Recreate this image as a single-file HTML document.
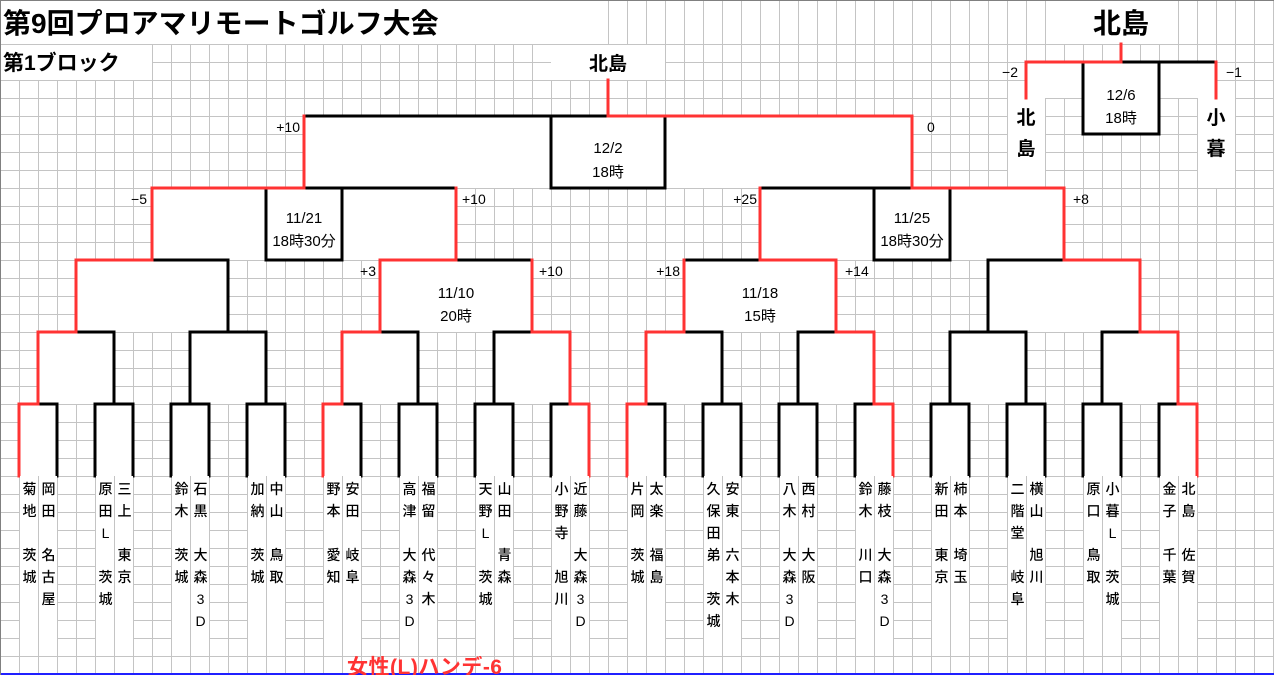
<!DOCTYPE html>
<html><head><meta charset="utf-8">
<style>
html,body{margin:0;padding:0;background:#fff;}
#c{position:relative;width:1274px;height:675px;overflow:hidden;background:#fff;
font-family:"Liberation Sans","Noto Sans CJK JP",sans-serif;}
#gv{position:absolute;left:0;top:0;width:1274px;height:675px;
background-image:linear-gradient(to right,#c4c4c4 1px,transparent 1px);background-size:19px 18px;}
#gh{position:absolute;left:0;top:44px;width:1274px;height:631px;
background-image:linear-gradient(to bottom,#c4c4c4 1px,transparent 1px);background-size:19px 18px;}
svg{position:absolute;left:0;top:0;}
.n{position:absolute;top:478px;width:19px;text-align:center;font-size:14px;line-height:22px;color:#000;font-weight:500;}
.w{position:absolute;top:476px;width:18px;height:180px;background:#fff}
</style></head><body>
<div id="c">
<div id="gv"></div><div id="gh"></div>
<svg width="1274" height="675" viewBox="0 0 1274 675">
<g fill="#fff">
<rect x="0" y="1" width="608" height="43"/>
<rect x="1064" y="1" width="114" height="43"/>
<rect x="0" y="45" width="152" height="35"/>
<rect x="551" y="45" width="114" height="35"/>
<rect x="304" y="116" width="608" height="72"/>
<rect x="152" y="188" width="304" height="72"/>
<rect x="760" y="188" width="304" height="72"/>
<rect x="76" y="260" width="152" height="72"/>
<rect x="380" y="260" width="152" height="72"/>
<rect x="684" y="260" width="152" height="72"/>
<rect x="988" y="260" width="152" height="72"/>
<rect x="38" y="332" width="76" height="72"/><rect x="190" y="332" width="76" height="72"/>
<rect x="342" y="332" width="76" height="72"/><rect x="494" y="332" width="76" height="72"/>
<rect x="646" y="332" width="76" height="72"/><rect x="798" y="332" width="76" height="72"/>
<rect x="950" y="332" width="76" height="72"/><rect x="1102" y="332" width="76" height="72"/>
<rect x="19" y="404" width="38" height="72"/><rect x="95" y="404" width="38" height="72"/>
<rect x="171" y="404" width="38" height="72"/><rect x="247" y="404" width="38" height="72"/>
<rect x="323" y="404" width="38" height="72"/><rect x="399" y="404" width="38" height="72"/>
<rect x="475" y="404" width="38" height="72"/><rect x="551" y="404" width="38" height="72"/>
<rect x="627" y="404" width="38" height="72"/><rect x="703" y="404" width="38" height="72"/>
<rect x="779" y="404" width="38" height="72"/><rect x="855" y="404" width="38" height="72"/>
<rect x="931" y="404" width="38" height="72"/><rect x="1007" y="404" width="38" height="72"/>
<rect x="1083" y="404" width="38" height="72"/><rect x="1159" y="404" width="38" height="72"/>
<rect x="1027" y="63" width="56" height="35"/>
<rect x="1159" y="63" width="57" height="35"/>
<rect x="1083" y="62" width="76" height="72"/>
<rect x="1008" y="98" width="37" height="90"/>
<rect x="1198" y="98" width="37" height="90"/>
</g>
<g fill="none" stroke-width="3" stroke-linecap="square">
<path stroke="#000" d="M38 404H57V476 M95 476V404H133V476 M171 476V404H209V476 M247 476V404H285V476 M342 404H361V476 M399 476V404H437V476 M475 476V404H513V476 M551 476V404H570 M646 404H665V476 M703 476V404H741V476 M779 476V404H817V476 M855 476V404H874 M931 476V404H969V476 M1007 476V404H1045V476 M1083 476V404H1121V476 M1159 476V404H1178
M76 332H114V404 M190 404V332H266V404 M380 332H418V404 M494 404V332H532 M684 332H722V404 M798 404V332H836 M950 404V332H1026V404 M1102 404V332H1140
M152 260H228V332 M456 260H532 M684 260H760 M988 332V260H1064
M304 188H456 M760 188H912 M304 116H608
M551 116V188H665V116 M266 188V260H342V188 M874 188V260H950V188
M1121 62H1216 M1083 62V134H1159V62"/>
<path stroke="#ff3333" d="M19 476V404H38 M323 476V404H342 M570 404H589V476 M627 476V404H646 M874 404H893V476 M1178 404H1197V476
M38 404V332H76 M342 404V332H380 M532 332H570V404 M646 404V332H684 M836 332H874V404 M1140 332H1178V404
M76 332V260H152 M380 332V260H456 M532 260V332 M684 332V260 M760 260H836V332 M1064 260H1140V332
M152 260V188H304 M456 188V260 M760 260V188 M912 188H1064V260
M304 188V116 M608 80V116H912V188
M1121 44V62H1026V98 M1216 62V98"/>
</g>
<line x1="0" y1="674" x2="1274" y2="674" stroke="#2020ff" stroke-width="2"/>
<line x1="0" y1="0.5" x2="1274" y2="0.5" stroke="#808080" stroke-width="1"/>
<line x1="0.5" y1="0" x2="0.5" y2="675" stroke="#808080" stroke-width="1"/>
<g font-family="Liberation Sans, Noto Sans CJK JP, sans-serif" fill="#000">
<text x="3" y="33" font-size="28" font-weight="bold">第9回プロアマリモートゴルフ大会</text>
<text x="3" y="70" font-size="21" font-weight="bold">第1ブロック</text>
<text x="608" y="70" font-size="19" font-weight="bold" text-anchor="middle">北島</text>
<text x="1121" y="33" font-size="28" font-weight="bold" text-anchor="middle">北島</text>
<text x="1026" y="124" font-size="19" font-weight="bold" text-anchor="middle">北</text>
<text x="1026" y="155" font-size="19" font-weight="bold" text-anchor="middle">島</text>
<text x="1216" y="124" font-size="19" font-weight="bold" text-anchor="middle">小</text>
<text x="1216" y="155" font-size="19" font-weight="bold" text-anchor="middle">暮</text>
<g font-size="15" text-anchor="middle">
<text x="1121" y="100">12/6</text><text x="1121" y="123">18時</text>
<text x="608" y="153">12/2</text><text x="608" y="177">18時</text>
<text x="304" y="223">11/21</text><text x="304" y="246">18時30分</text>
<text x="912" y="223">11/25</text><text x="912" y="246">18時30分</text>
<text x="456" y="298">11/10</text><text x="456" y="321">20時</text>
<text x="760" y="298">11/18</text><text x="760" y="321">15時</text>
</g>
<g font-size="14">
<text x="1018" y="77" text-anchor="end">−2</text>
<text x="1226" y="77">−1</text>
<text x="300" y="132" text-anchor="end">+10</text>
<text x="927" y="132">0</text>
<text x="147" y="204" text-anchor="end">−5</text>
<text x="462" y="204">+10</text>
<text x="757" y="204" text-anchor="end">+25</text>
<text x="1073" y="204">+8</text>
<text x="376" y="276" text-anchor="end">+3</text>
<text x="539" y="276">+10</text>
<text x="680" y="276" text-anchor="end">+18</text>
<text x="845" y="276">+14</text>
</g>
<text x="347" y="674" font-size="21" font-weight="bold" fill="#ff3333" letter-spacing="0.5">女性(L)ハンデ-6</text>
</g>
</svg>
<div class="w" style="left:20px"></div><div class="w" style="left:39px"></div>
<div class="w" style="left:96px"></div><div class="w" style="left:115px"></div>
<div class="w" style="left:172px"></div><div class="w" style="left:191px"></div>
<div class="w" style="left:248px"></div><div class="w" style="left:267px"></div>
<div class="w" style="left:324px"></div><div class="w" style="left:343px"></div>
<div class="w" style="left:400px"></div><div class="w" style="left:419px"></div>
<div class="w" style="left:476px"></div><div class="w" style="left:495px"></div>
<div class="w" style="left:552px"></div><div class="w" style="left:571px"></div>
<div class="w" style="left:628px"></div><div class="w" style="left:647px"></div>
<div class="w" style="left:704px"></div><div class="w" style="left:723px"></div>
<div class="w" style="left:780px"></div><div class="w" style="left:799px"></div>
<div class="w" style="left:856px"></div><div class="w" style="left:875px"></div>
<div class="w" style="left:932px"></div><div class="w" style="left:951px"></div>
<div class="w" style="left:1008px"></div><div class="w" style="left:1027px"></div>
<div class="w" style="left:1084px"></div><div class="w" style="left:1103px"></div>
<div class="w" style="left:1160px"></div><div class="w" style="left:1179px"></div>

<div class="n" style="left:20px">菊<br>地<br><br>茨<br>城</div>
<div class="n" style="left:39px">岡<br>田<br><br>名<br>古<br>屋</div>
<div class="n" style="left:96px">原<br>田<br>L<br><br>茨<br>城</div>
<div class="n" style="left:115px">三<br>上<br><br>東<br>京</div>
<div class="n" style="left:172px">鈴<br>木<br><br>茨<br>城</div>
<div class="n" style="left:191px">石<br>黒<br><br>大<br>森<br>3<br>D</div>
<div class="n" style="left:248px">加<br>納<br><br>茨<br>城</div>
<div class="n" style="left:267px">中<br>山<br><br>鳥<br>取</div>
<div class="n" style="left:324px">野<br>本<br><br>愛<br>知</div>
<div class="n" style="left:343px">安<br>田<br><br>岐<br>阜</div>
<div class="n" style="left:400px">高<br>津<br><br>大<br>森<br>3<br>D</div>
<div class="n" style="left:419px">福<br>留<br><br>代<br>々<br>木</div>
<div class="n" style="left:476px">天<br>野<br>L<br><br>茨<br>城</div>
<div class="n" style="left:495px">山<br>田<br><br>青<br>森</div>
<div class="n" style="left:552px">小<br>野<br>寺<br><br>旭<br>川</div>
<div class="n" style="left:571px">近<br>藤<br><br>大<br>森<br>3<br>D</div>
<div class="n" style="left:628px">片<br>岡<br><br>茨<br>城</div>
<div class="n" style="left:647px">太<br>楽<br><br>福<br>島</div>
<div class="n" style="left:704px">久<br>保<br>田<br>弟<br><br>茨<br>城</div>
<div class="n" style="left:723px">安<br>東<br><br>六<br>本<br>木</div>
<div class="n" style="left:780px">八<br>木<br><br>大<br>森<br>3<br>D</div>
<div class="n" style="left:799px">西<br>村<br><br>大<br>阪</div>
<div class="n" style="left:856px">鈴<br>木<br><br>川<br>口</div>
<div class="n" style="left:875px">藤<br>枝<br><br>大<br>森<br>3<br>D</div>
<div class="n" style="left:932px">新<br>田<br><br>東<br>京</div>
<div class="n" style="left:951px">柿<br>本<br><br>埼<br>玉</div>
<div class="n" style="left:1008px">二<br>階<br>堂<br><br>岐<br>阜</div>
<div class="n" style="left:1027px">横<br>山<br><br>旭<br>川</div>
<div class="n" style="left:1084px">原<br>口<br><br>鳥<br>取</div>
<div class="n" style="left:1103px">小<br>暮<br>L<br><br>茨<br>城</div>
<div class="n" style="left:1160px">金<br>子<br><br>千<br>葉</div>
<div class="n" style="left:1179px">北<br>島<br><br>佐<br>賀</div>
</div>
</body></html>
